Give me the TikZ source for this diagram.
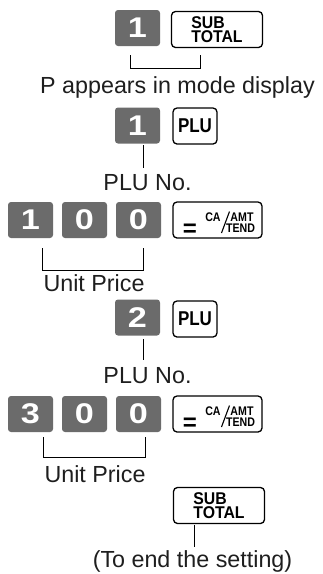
\documentclass[tikz,border=0pt]{standalone}
\usepackage{fontspec}
\setmainfont{Liberation Sans}
\newfontfamily\condfont[FakeStretch=0.85]{Liberation Sans}
\newfontfamily\subfont[FakeStretch=0.93]{Liberation Sans}
\newfontfamily\widefont[FakeStretch=1.2]{Liberation Sans}
\definecolor{keygrey}{RGB}{107,107,107}
\definecolor{labeltext}{RGB}{30,30,30}
\begin{document}
\begin{tikzpicture}[x=1pt,y=-1pt,
  numkey/.style={rectangle, rounded corners=3pt, fill=keygrey, minimum width=45pt, minimum height=36pt, inner sep=0pt, text=white, font=\widefont\bfseries\fontsize{28.5}{30}\selectfont},
  fnkey/.style={rectangle, rounded corners=4pt, draw=black, line width=1.3pt, fill=white, minimum height=36pt, inner sep=0pt},
  subtot/.style={fnkey, minimum width=91pt, align=left, font=\subfont\bfseries\fontsize{17}{13.5}\selectfont},
  plukey/.style={fnkey, minimum width=44pt, font=\condfont\bfseries\fontsize{20}{20}\selectfont},
  cakey/.style={fnkey, minimum width=89pt},
  catext/.style={anchor=base, inner sep=0pt, font=\condfont\bfseries\fontsize{12.5}{12.5}\selectfont},
  eqtext/.style={anchor=base, inner sep=0pt, font=\bfseries\fontsize{24}{24}\selectfont},
  lbl/.style={anchor=base, inner sep=0pt, text=labeltext, font=\fontsize{23.3}{28}\selectfont},
  conn/.style={draw=black, line width=1pt},
  slash/.style={draw=black, line width=1.1pt}]
\useasboundingbox (0,0) rectangle (323,574);

% Row 1
\node[numkey] (r1a) at (137.5,28) {1};
\node[subtot] (r1b) at (217,29.5) {SUB\\TOTAL};
\coordinate (b1l) at (130,55);
\coordinate (b1r) at (200,55);
\draw[conn] (b1l) -- ++(0,13) -| (b1r);
\node[lbl] (t1) at (177.5,93) {P appears in mode display};

% Row 2
\node[numkey] (r2a) at (137.5,125.5) {1};
\node[plukey] (r2b) at (195,126) {PLU};
\coordinate (v1t) at (143,145);
\coordinate (v1b) at (143,168);
\draw[conn] (v1t) -- (v1b);
\node[lbl] (t2) at (147.5,190) {PLU No.};

% Row 3
\node[numkey] (r3a) at (30.5,220) {1};
\node[numkey] (r3b) at (84.5,220) {0};
\node[numkey] (r3c) at (138.5,220) {0};
\node[cakey] (r3d) at (217.5,220) {};
\node[eqtext] (r3eq) at ([shift={(-27.5,16.5)}]r3d.center) {=};
\node[catext] (r3ca) at ([shift={(-4.5,1.5)}]r3d.center) {CA};
\draw[slash] ([shift={(12,-8.5)}]r3d.center) -- ([shift={(4,13)}]r3d.center);
\node[catext] (r3amt) at ([shift={(24.5,1.5)}]r3d.center) {AMT};
\node[catext] (r3tend) at ([shift={(23,12)}]r3d.center) {TEND};
\coordinate (b2l) at (42,248);
\coordinate (b2r) at (143,248);
\draw[conn] (b2l) -- ++(0,22) -| (b2r);
\node[lbl] (t3) at (94,291.5) {Unit Price};

% Row 4
\node[numkey] (r4a) at (137.5,317.5) {2};
\node[plukey] (r4b) at (195,319) {PLU};
\coordinate (v2t) at (143,339);
\coordinate (v2b) at (143,360);
\draw[conn] (v2t) -- (v2b);
\node[lbl] (t4) at (147.5,383) {PLU No.};

% Row 5
\node[numkey] (r5a) at (30.5,414) {3};
\node[numkey] (r5b) at (84.5,414) {0};
\node[numkey] (r5c) at (138.5,414) {0};
\node[cakey] (r5d) at (217.5,414) {};
\node[eqtext] (r5eq) at ([shift={(-27.5,16.5)}]r5d.center) {=};
\node[catext] (r5ca) at ([shift={(-4.5,1.5)}]r5d.center) {CA};
\draw[slash] ([shift={(12,-8.5)}]r5d.center) -- ([shift={(4,13)}]r5d.center);
\node[catext] (r5amt) at ([shift={(24.5,1.5)}]r5d.center) {AMT};
\node[catext] (r5tend) at ([shift={(23,12)}]r5d.center) {TEND};
\coordinate (b3l) at (43,437);
\coordinate (b3r) at (145,437);
\draw[conn] (b3l) -- ++(0,20) -| (b3r);
\node[lbl] (t5) at (95,482) {Unit Price};

% Row 6
\node[subtot] (r6a) at (219,505.5) {SUB\\TOTAL};
\coordinate (v3t) at (194,525);
\coordinate (v3b) at (194,547);
\draw[conn] (v3t) -- (v3b);
\node[lbl] (t6) at (192.5,567) {(To end the setting)};
\end{tikzpicture}
\end{document}
